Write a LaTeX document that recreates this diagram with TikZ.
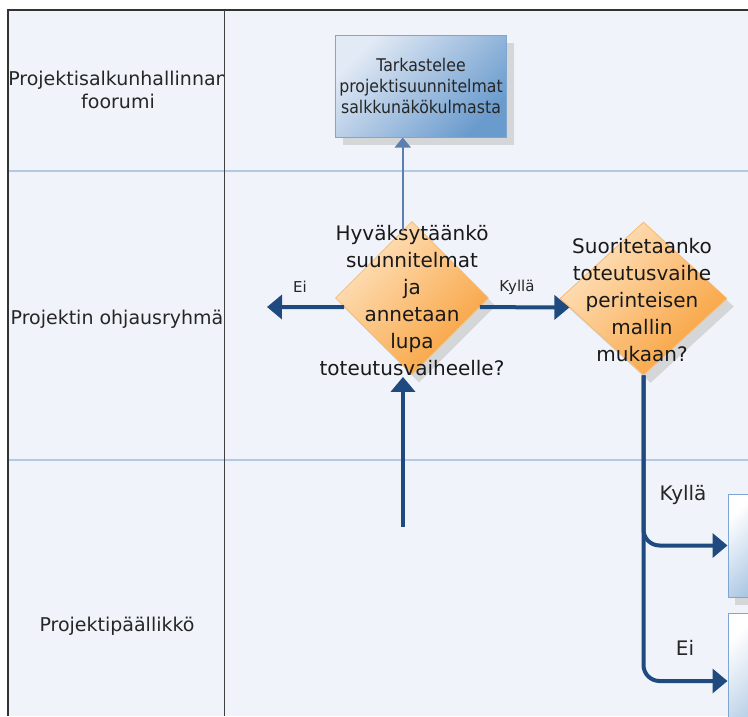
\documentclass[tikz,border=0pt]{standalone}
\usepackage{fontspec}
\setmainfont{DejaVu Sans}
\newfontfamily\boxfont[FakeStretch=0.9]{DejaVu Sans}
\usetikzlibrary{shapes.geometric,arrows.meta,calc,shadows}

\definecolor{lanebg}{HTML}{F0F4FA}
\definecolor{laneline}{HTML}{B4CAE4}
\definecolor{flowblue}{HTML}{1F4A80}
\definecolor{thinblue}{HTML}{5B7FAE}
\definecolor{boxlight}{HTML}{E2EAF5}
\definecolor{boxdark}{HTML}{6A9BCD}
\definecolor{boxedge}{HTML}{7EA6D2}
\definecolor{decilight}{HTML}{FEE3C0}
\definecolor{decidark}{HTML}{F8A03A}
\definecolor{deciedge}{HTML}{F7BA75}
\definecolor{shadowgrey}{HTML}{CCCCCC}

\begin{document}
\begin{tikzpicture}[x=1pt,y=-1pt,
  lanetext/.style={font=\fontsize{19}{23}\selectfont, text=black!85, align=center},
  procbox/.style={rectangle, draw=boxedge, line width=1pt, inner sep=0pt,
    top color=boxlight, bottom color=boxdark, shading angle=45,
    font=\boxfont\fontsize{17.5}{21}\selectfont, text=black!85, align=center},
  sidebox/.style={rectangle, draw=boxedge, line width=1pt, inner sep=0pt,
    top color=white, bottom color=boxdark!70, shading angle=45},
  decision/.style={diamond, draw=deciedge, line width=0.8pt, inner sep=0pt,
    top color=decilight, bottom color=decidark, shading angle=45},
  softshadow/.style={drop shadow={shadow xshift=7pt, shadow yshift=-8pt,
    fill=shadowgrey, opacity=0.75}},
  decitext/.style={font=\fontsize{20}{27}\selectfont, text=black!90, align=center},
  flowlabel/.style={font=\fontsize{15}{18}\selectfont, text=black!85},
  biglabel/.style={font=\fontsize{20}{24}\selectfont, text=black!85},
  flow/.style={draw=flowblue, line width=4pt, -{Triangle[length=15pt,width=24pt]}},
  thinflow/.style={draw=thinblue, line width=1.5pt, -{Triangle[length=10pt,width=16pt]}}]

\clip (0,0) rectangle (748,716);
\useasboundingbox (0,0) rectangle (748,716);

% page and swimlane frame
\fill[white] (0,0) rectangle (748,716);
\fill[lanebg] (8,10) rectangle (748,716);
\draw[laneline, line width=2.2pt] (8,171) -- (748,171);
\draw[laneline, line width=2.2pt] (8,460) -- (748,460);
\draw[black!80, line width=1.3pt] (8,716) -- (8,10) -- (748,10);
\draw[black!75, line width=1pt] (224,10) -- (224,716);

% lane titles
\begin{scope}
  \clip (8,10) rectangle (223.4,716);
  \node[lanetext] (lane1) at (118,90) {Projektisalkunhallinnan\\foorumi};
  \node[lanetext] (lane2) at (117,319) {Projektin ohjausryhmä};
  \node[lanetext] (lane3) at (117,626) {Projektipäällikkö};
\end{scope}

% shapes
\node[decision, softshadow, minimum width=153pt, minimum height=153pt] (d1) at (412,298) {};
\node[decision, softshadow, minimum width=167pt, minimum height=153pt] (d2) at (643.5,298.5) {};
\node[procbox, softshadow, minimum width=171pt, minimum height=102pt] (b1) at (421,86)
  {Tarkastelee\\projektisuunnitelmat\\salkkunäkökulmasta};
\node[sidebox, softshadow, minimum width=64pt, minimum height=103pt] (rA) at (760,545.5) {};
\node[sidebox, minimum width=64pt, minimum height=136pt] (rB) at (760,681) {};

% decision texts
\node[decitext] (d1t) at (412,301)
  {Hyväksytäänkö\\suunnitelmat\\ja\\annetaan\\lupa\\toteutusvaiheelle?};
\node[decitext] (d2t) at (642,300)
  {Suoritetaanko\\toteutusvaihe\\perinteisen\\mallin\\mukaan?};

% connection points
\coordinate (c2) at ($(d1.west)!0.88!(d1.north)$);
\coordinate (src) at (403,527);
\coordinate (eiend) at (267,307);

% connectors
\draw[thinflow] (c2) -- (c2 |- b1.south);
\draw[flow, shorten >=2pt] (src) -- (src |- d1.south);
\draw[flow] ($(d1.west)!0.118!(d1.south)$) -- (eiend);
\draw[flow] ($(d1.east)!0.118!(d1.south)$) -- ($(d2.west)!0.117!(d2.south)$);
\draw[flow, rounded corners=16pt] (d2.south) |- (rA.west);
\draw[flow, rounded corners=16pt] (d2.south) |- (rB.west);

% connector labels
\node[flowlabel] (lblei1) at (300,287) {Ei};
\node[flowlabel] (lblky1) at (517,287) {Kyllä};
\node[biglabel] (lblky2) at (683,495) {Kyllä};
\node[biglabel] (lblei2) at (685,648) {Ei};
\end{tikzpicture}
\end{document}
